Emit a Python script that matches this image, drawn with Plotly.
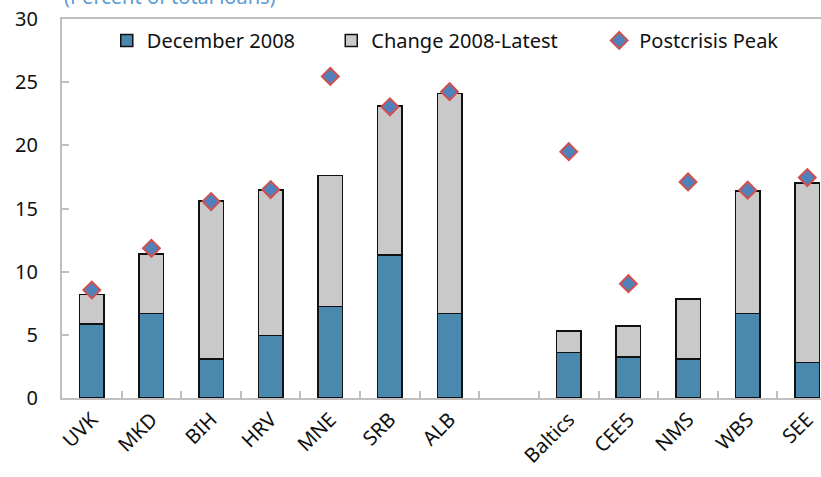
import plotly.graph_objects as go

categories = ["UVK", "MKD", "BIH", "HRV", "MNE", "SRB", "ALB", " ", "Baltics", "CEE5", "NMS", "WBS", "SEE"]
dec_2008 = [5.85, 6.7, 3.1, 4.95, 7.25, 11.3, 6.7, None, 3.6, 3.25, 3.1, 6.7, 2.8]
latest_total = [8.2, 11.4, 15.6, 16.45, 17.6, 23.1, 24.1, None, 5.3, 5.7, 7.85, 16.4, 17.0]
change = [None if d is None else round(t - d, 2) for d, t in zip(dec_2008, latest_total)]
peak = [8.55, 11.85, 15.55, 16.5, 25.45, 23.05, 24.25, None, 19.5, 9.05, 17.1, 16.45, 17.45]
series_names = ["December 2008", "Change 2008-Latest", "Postcrisis Peak"]

FONT = "Noto Sans"
NB = "\u00a0"

fig = go.Figure()
fig.add_trace(go.Bar(x=categories, y=dec_2008, name=series_names[0] + NB * 6,
                     marker=dict(color="#4a89ad", line=dict(color="#111111", width=1.5)),
                     width=0.41))
fig.add_trace(go.Bar(x=categories, y=change, name=series_names[1] + NB * 7,
                     marker=dict(color="#c9c9c9", line=dict(color="#111111", width=1.5)),
                     width=0.41))
fig.add_trace(go.Scatter(x=categories, y=peak, name=series_names[2], mode="markers",
                         marker=dict(symbol="diamond", size=13, color="#4f81bd",
                                     line=dict(color="#d0504d", width=2))))

fig.update_layout(
    barmode="stack",
    width=821, height=477,
    margin=dict(l=62, r=0, t=19, b=79, autoexpand=False),
    plot_bgcolor="white", paper_bgcolor="white",
    font=dict(family=FONT, size=19, color="#111111"),
    showlegend=True,
    legend=dict(orientation="h", x=0.059, y=0.995, xanchor="left", yanchor="top",
                font=dict(size=20), bgcolor="rgba(0,0,0,0)", traceorder="normal",
                itemwidth=30),
    xaxis=dict(type="category", range=[-0.5, 12.23], tickson="boundaries",
               ticks="inside", ticklen=7, tickcolor="#bfbfbf", tickwidth=1.5,
               showline=True, linecolor="#bfbfbf", linewidth=2, mirror=True,
               tickangle=-45, tickfont=dict(size=20), showgrid=False, automargin=False,
               ticklabeloverflow="allow"),
    yaxis=dict(range=[0, 30], dtick=5, ticks="inside", ticklen=7, tickcolor="#bfbfbf",
               tickwidth=1.5, showline=True, linecolor="#bfbfbf", linewidth=2, mirror=True,
               showgrid=False, zeroline=False, tickfont=dict(size=20), ticklabelstandoff=18,
               automargin=False, ticklabeloverflow="allow"),
    annotations=[dict(text="(Percent of total loans)", xref="paper", yref="paper",
                      x=0, y=1, xanchor="left", yanchor="bottom", yshift=7, showarrow=False,
                      font=dict(size=20, color="#5b9bd5", family=FONT))],
)

fig.write_html("out.html", config={"displayModeBar": False},
               post_script="document.body.style.margin='0';document.body.style.padding='0';")
